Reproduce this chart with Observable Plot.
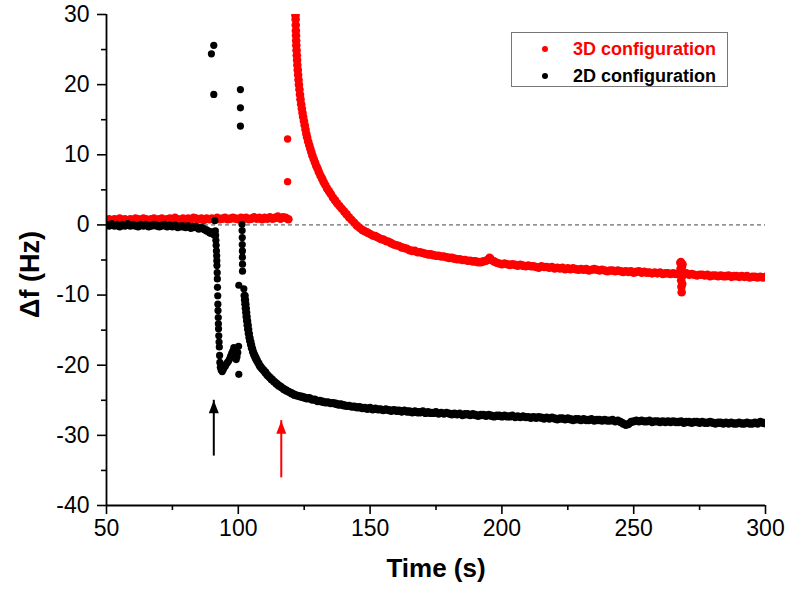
<!DOCTYPE html>
<html>
<head>
<meta charset="utf-8">
<script src="https://cdn.jsdelivr.net/npm/d3@7"></script>
<script src="https://cdn.jsdelivr.net/npm/@observablehq/plot@0.6"></script>
<style>
  html, body { margin: 0; padding: 0; background: #fff; }
  #wrap { position: relative; width: 800px; height: 595px; font-family: "Liberation Sans", Arial, sans-serif; }
  #legend { position: absolute; left: 511px; top: 32px; width: 217px; height: 55px; border: 1px solid #777; background: #fff; box-sizing: border-box; }
  .row { position: absolute; left: 0; font-weight: bold; font-size: 18px; white-space: nowrap; }
  .row .dot { position: absolute; width: 6px; height: 6px; border-radius: 50%; }
  .row .lab { position: absolute; left: 61px; line-height: 18px; }
</style>
</head>
<body>
<div id="wrap">
  <div id="chart"></div>
  <div id="legend">
    <div class="row" style="top:7px"><span class="dot" style="left:30px;top:6px;background:#ff0000"></span><span class="lab" style="color:#ff0000">3D configuration</span></div>
    <div class="row" style="top:34px"><span class="dot" style="left:30px;top:6px;background:#000"></span><span class="lab" style="color:#000">2D configuration</span></div>
  </div>
</div>
<script>
// ---------- tick values ----------
const xMajor = [50, 100, 150, 200, 250, 300];
const xMinor = [75, 125, 175, 225, 275];
const yMajor = [30, 20, 10, 0, -10, -20, -30, -40];
const yMinor = [25, 15, 5, -5, -15, -25, -35];

// ---------- 3D configuration (red) ----------
// baseline, one reading per second starting at t = 50 s
const red3D_flatStart = 50;
const red3D_flat = [
  0.7,0.8,0.6,0.8,0.7,0.9,0.7,0.8,0.6,0.8,
  0.7,0.9,0.8,0.7,0.9,0.8,0.7,0.8,0.9,0.7,
  0.8,0.9,0.7,0.8,0.9,0.8,1.0,0.8,0.7,0.9,
  0.8,0.9,0.8,1.0,0.9,0.8,0.9,0.7,0.9,0.8,
  0.9,0.8,1.0,0.8,0.9,1.0,0.8,0.9,1.0,0.9,
  0.8,1.0,0.9,1.0,0.8,0.9,1.1,0.9,1.0,0.8,
  1.0,0.9,1.1,0.9,1.0,1.2,0.9,1.1,1.0,0.8
];
// isolated points during injection
const red3D_jumpT = [118.7, 118.7];
const red3D_jumpV = [12.25, 6.17];
// steep decay
const red3D_decayT = [121.65,121.68,121.7,121.75,121.8,121.85,121.9,121.95,122.0,122.1,122.2,122.3,122.4,122.55,122.7,122.85,123.0,123.2,123.4,123.6,123.85,124.1,124.35,124.6,124.9,125.2,125.5,125.8,126.1,126.5,126.9,127.3,127.7,128.1,128.6,129.1,129.6,130.1,130.6,131.2,131.8,132.4,133.0,133.7,134.4,135.1,135.9,136.7,137.5,138.4,139.3,140.2,141.1,142.0,143.0,144.0,145.0];
const red3D_decayV = [31.0,30.4,29.9,29.3,28.5,27.7,27.0,26.3,25.6,24.9,24.2,23.5,22.8,22.1,21.4,20.7,20.0,19.3,18.6,17.9,17.2,16.6,16.0,15.4,14.8,14.2,13.6,13.0,12.5,11.9,11.4,10.9,10.4,9.9,9.4,8.9,8.4,8.0,7.5,7.0,6.6,6.1,5.7,5.2,4.8,4.4,3.9,3.5,3.1,2.7,2.3,1.9,1.5,1.1,0.7,0.3,-0.1];
// slow tail, one reading per second starting at t = 146 s
const red3D_tailStart = 146;
const red3D_tail = [
  -0.4,-0.7,-0.9,-1.1,-1.3,-1.5,-1.6,-1.8,-2.0,-2.1,
  -2.3,-2.4,-2.6,-2.8,-2.9,-3.0,-3.2,-3.3,-3.4,-3.6,
  -3.7,-3.7,-3.9,-3.9,-4.0,-4.1,-4.2,-4.2,-4.3,-4.4,
  -4.4,-4.5,-4.5,-4.6,-4.7,-4.7,-4.8,-4.9,-4.9,-5.0,
  -5.0,-5.1,-5.1,-5.2,-5.2,-5.3,-5.3,-5.2,-5.1,-4.9,
  -5.0,-5.2,-5.4,-5.5,-5.6,-5.5,-5.6,-5.7,-5.6,-5.7,
  -5.8,-5.7,-5.8,-5.9,-5.8,-5.9,-5.9,-6.0,-6.1,-5.9,
  -6.0,-6.0,-6.1,-6.0,-6.2,-6.1,-6.2,-6.1,-6.3,-6.2,
  -6.3,-6.2,-6.3,-6.4,-6.3,-6.4,-6.3,-6.5,-6.4,-6.3,
  -6.4,-6.5,-6.4,-6.5,-6.6,-6.5,-6.5,-6.6,-6.5,-6.6,
  -6.7,-6.6,-6.7,-6.6,-6.8,-6.7,-6.6,-6.8,-6.7,-6.8,
  -6.8,-6.9,-6.8,-6.9,-6.8,-7.0,-6.9,-6.9,-7.0,-6.9,
  -7.0,-6.9,-7.2,-7.0,-6.9,-7.1,-7.0,-7.1,-7.2,-7.1,
  -7.1,-7.2,-7.1,-7.3,-7.2,-7.2,-7.3,-7.2,-7.3,-7.3,
  -7.2,-7.4,-7.3,-7.3,-7.4,-7.3,-7.4,-7.3,-7.5,-7.4,
  -7.4,-7.5,-7.4,-7.5,-7.4
];
// disturbances in the tail (bump near 195 s, spike near 268 s)
const red3D_glitchT = [195.3,195.6,267.7,267.8,267.9,268.0,268.1,268.2,268.3,268.4,268.5,268.6];
const red3D_glitchV = [-4.7,-4.8,-5.4,-6.2,-5.3,-7.9,-8.8,-9.6,-6.0,-8.4,-5.6,-7.2];

// ---------- 2D configuration (black) ----------
const black2D_flatStart = 50;
const black2D_flat = [
  0.0,-0.1,0.1,-0.1,0.0,-0.2,0.0,-0.1,0.1,-0.1,
  0.0,-0.1,-0.2,0.0,-0.1,0.0,-0.2,-0.1,0.0,-0.1,
  -0.2,-0.1,0.0,-0.2,-0.1,-0.2,-0.1,-0.3,-0.2,-0.2,
  -0.3,-0.2,-0.4,-0.3,-0.3,-0.5,-0.4,-0.6,-0.8,-1.0
];
// injection: outliers, first drop, dip cluster, second drop
const black2D_eventT = [89.5,90.2,90.7,91.1, 89.8,90.7,90.7,100.8,100.8,100.8,
  91.3,91.4,91.5,91.6,91.7,91.8,91.85,91.9,92.0,92.05,92.1,92.2,92.25,92.3,92.4,92.45,92.5,92.6,92.7,92.8,92.9,93.0,93.2,
  93.5,93.9,94.3,94.7,95.1,95.5,95.9,96.3,96.7,97.1,97.5,97.9,98.3,98.6,98.9,99.2,99.5,99.8,100.1,100.2,
  101.4,101.45,101.5,101.5,101.55,101.55,101.6,101.6,100.2,102.1];
const black2D_eventV = [-1.2,-1.0,-1.4,0.6, 24.4,25.6,18.6,19.3,16.7,14.1,
  -0.85,-1.5,-2.2,-2.9,-3.7,-4.4,-5.1,-5.8,-6.8,-7.7,-8.9,-10.1,-11.3,-12.2,-13.2,-14.1,-14.8,-15.8,-16.7,-17.4,-18.6,-19.6,-20.3,
  -20.7,-20.9,-20.6,-20.3,-20.1,-19.8,-19.6,-19.4,-19.1,-18.7,-18.3,-18.0,-17.5,-18.1,-18.7,-19.2,-18.8,-18.2,-17.3,-21.3,
  0.1,-0.8,-1.8,-2.8,-3.7,-4.6,-5.6,-6.6,-8.6,-9.1];
// steep decay after second injection
const black2D_decayT = [102.4,102.55,102.7,102.85,103.0,103.15,103.35,103.55,103.75,104.0,104.25,104.55,104.85,105.2,105.6,106.0,106.5,107.0,107.6,108.2,108.8,109.5,110.2,111.0,111.8,112.6,113.5,114.4,115.3,116.2,117.2,118.2,119.2,120.2,121.2];
const black2D_decayV = [-10.1,-10.7,-11.3,-11.9,-12.5,-13.1,-13.7,-14.3,-14.9,-15.5,-16.1,-16.6,-17.1,-17.6,-18.1,-18.5,-18.9,-19.3,-19.7,-20.1,-20.4,-20.7,-21.0,-21.4,-21.7,-22.0,-22.3,-22.6,-22.9,-23.1,-23.4,-23.6,-23.8,-24.0,-24.2];
// slow tail, one reading per second starting at t = 122 s
const black2D_tailStart = 122;
const black2D_tail = [
  -24.3,-24.4,-24.5,-24.6,-24.7,-24.7,-24.9,-24.9,-25.1,-25.1,
  -25.2,-25.3,-25.3,-25.4,-25.4,-25.5,-25.6,-25.6,-25.7,-25.8,
  -25.8,-25.9,-25.9,-26.0,-26.0,-26.1,-26.1,-26.2,-26.1,-26.3,
  -26.2,-26.3,-26.3,-26.4,-26.3,-26.4,-26.5,-26.4,-26.5,-26.5,
  -26.6,-26.5,-26.6,-26.6,-26.7,-26.6,-26.7,-26.7,-26.6,-26.8,
  -26.7,-26.8,-26.8,-26.7,-26.9,-26.8,-26.9,-26.8,-26.9,-27.0,
  -26.9,-27.0,-26.9,-27.1,-27.0,-27.0,-27.1,-27.0,-27.1,-27.2,
  -27.1,-27.1,-27.2,-27.1,-27.2,-27.3,-27.2,-27.2,-27.3,-27.2,
  -27.3,-27.3,-27.2,-27.4,-27.3,-27.4,-27.3,-27.4,-27.4,-27.5,
  -27.4,-27.5,-27.4,-27.5,-27.6,-27.5,-27.6,-27.5,-27.6,-27.7,
  -27.6,-27.6,-27.7,-27.6,-27.7,-27.8,-27.7,-27.7,-27.8,-27.7,
  -27.8,-27.8,-27.7,-27.9,-27.8,-27.8,-27.9,-27.8,-27.9,-27.9,
  -27.8,-28.0,-27.9,-28.1,-28.3,-28.5,-28.4,-28.1,-28.0,-27.9,
  -28.0,-27.9,-28.0,-28.0,-27.9,-28.1,-28.0,-28.0,-28.1,-28.0,
  -28.1,-28.0,-28.1,-28.0,-28.1,-28.1,-28.0,-28.2,-28.1,-28.1,
  -28.2,-28.1,-28.1,-28.2,-28.1,-28.2,-28.2,-28.1,-28.2,-28.3,
  -28.2,-28.2,-28.3,-28.2,-28.3,-28.2,-28.3,-28.3,-28.2,-28.3,
  -28.3,-28.2,-28.3,-28.3,-28.2,-28.3,-28.1,-28.2,-28.3
];

// ---------- injection arrows ----------
const arrowT = [90.7, 116.3];
const arrowTip = [-25.0, -27.9];
const arrowTail = [-32.1, -35.2];
const arrowColor = ["#000000", "#ff0000"];

// ---------- build tables ----------
const fromGrid = (t0, vals) => vals.map((v, i) => ({t: t0 + i, v}));
const fromPairs = (ts, vs) => ts.map((t, i) => ({t, v: vs[i]}));

// continuous bands (dense readings)
const redBand = [
  ...fromGrid(red3D_flatStart, red3D_flat),
  ...fromPairs(red3D_decayT, red3D_decayV),
  ...fromGrid(red3D_tailStart, red3D_tail),
  ...fromPairs(red3D_glitchT, red3D_glitchV)
];
const redIsolated = fromPairs(red3D_jumpT, red3D_jumpV);
const blackBand = [
  ...fromGrid(black2D_flatStart, black2D_flat),
  ...fromPairs(black2D_decayT, black2D_decayV),
  ...fromGrid(black2D_tailStart, black2D_tail)
];
const blackIsolated = fromPairs(black2D_eventT, black2D_eventV);
const arrows = arrowT.map((t, i) => ({t, tip: arrowTip[i], tail: arrowTail[i], c: arrowColor[i]}));

// filled, narrow arrow head with its apex at the anchor point
const headSymbol = {
  draw(ctx) { ctx.moveTo(0, 0); ctx.lineTo(5, 13); ctx.lineTo(-5, 13); ctx.closePath(); }
};

const chart = Plot.plot({
  width: 800,
  height: 595,
  marginLeft: 106,
  marginRight: 35,
  marginTop: 14,
  marginBottom: 90,
  style: {fontFamily: "'Liberation Sans', Arial, sans-serif", fontSize: "23px", color: "#000", background: "#fff", overflow: "visible"},
  x: {domain: [50, 300], axis: null},
  y: {domain: [-40, 30], axis: null},
  marks: [
    Plot.ruleY([0], {stroke: "#444", strokeDasharray: "4,3", strokeWidth: 1}),
    Plot.dot(redBand, {x: "t", y: "v", r: 4.3, fill: "#ff0000", clip: true}),
    Plot.dot(redIsolated, {x: "t", y: "v", r: 3.7, fill: "#ff0000", clip: true}),
    Plot.dot(blackBand, {x: "t", y: "v", r: 4.2, fill: "#000", clip: true}),
    Plot.dot(blackIsolated, {x: "t", y: "v", r: 3.6, fill: "#000", clip: true}),
    Plot.ruleX(arrows, {x: "t", y1: "tail", y2: "tip", stroke: "c", strokeWidth: 2, insetTop: 6}),
    Plot.dot(arrows, {x: "t", y: "tip", fill: "c", symbol: headSymbol, r: 5}),
    Plot.axisY(yMajor, {anchor: "left", tickSize: 9, tickPadding: 8, tickFormat: d => String(d), fontSize: 23, strokeWidth: 1.6, label: null}),
    Plot.axisY(yMinor, {anchor: "left", tickSize: 5, tickFormat: () => "", strokeWidth: 1.6, label: null}),
    Plot.axisX(xMajor, {anchor: "bottom", tickSize: 9, tickPadding: 5, tickFormat: d => String(d), fontSize: 23, strokeWidth: 1.6, label: null}),
    Plot.axisX(xMinor, {anchor: "bottom", tickSize: 5, tickFormat: () => "", strokeWidth: 1.6, label: null}),
    Plot.ruleX([50], {strokeWidth: 1.8}),
    Plot.ruleY([-40], {strokeWidth: 1.8}),
    Plot.text(["Time (s)"], {frameAnchor: "bottom", dy: 71, fontSize: 26, fontWeight: "bold"}),
    Plot.text(["\u0394f (Hz)"], {frameAnchor: "left", dx: -76, dy: 58, rotate: -90, fontSize: 27, fontWeight: "bold"})
  ]
});
document.getElementById("chart").appendChild(chart);
</script>
</body>
</html>
